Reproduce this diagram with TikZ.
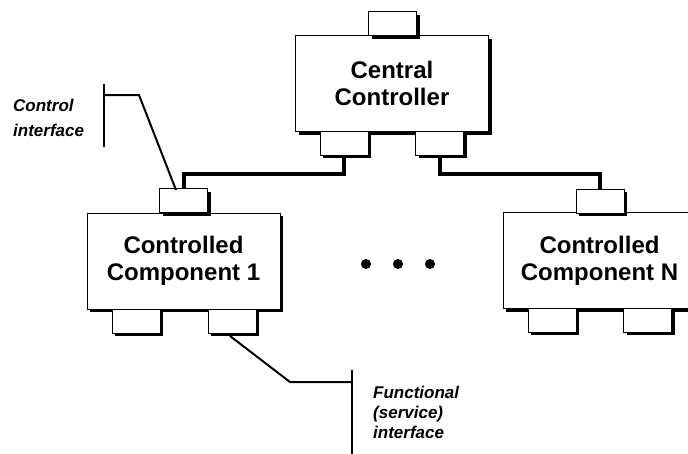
\documentclass[tikz,border=0pt]{standalone}
\usepackage{fontspec}
\setmainfont{Liberation Sans}
\usetikzlibrary{shadows}
\begin{document}
\begin{tikzpicture}[x=1pt,y=-1pt,
  shade3/.style={drop shadow={shadow xshift=3pt,shadow yshift=-3pt,fill=black,opacity=1}},
  unit/.style={draw=black,line width=0.9pt,fill=white,shade3,inner sep=0pt,
    minimum width=193pt,minimum height=96pt,align=center,
    font=\fontsize{24}{27}\selectfont\bfseries},
  port/.style={draw=black,line width=0.9pt,fill=white,shade3,inner sep=0pt,
    minimum width=48pt,minimum height=24pt},
  bus/.style={line width=4pt,black},
  pointer/.style={line width=2pt,black},
  note/.style={anchor=base west,inner sep=0pt,font=\fontsize{17}{20}\selectfont\bfseries\itshape},
  dot/.style={circle,fill=black,inner sep=0pt,minimum size=10pt}]
\useasboundingbox (0,0) rectangle (688,453);
\clip (0,0) rectangle (688,453);

% Central controller with its three ports
\node[unit] (cc) at (392,83.5) {Central\\Controller};
\node[port] (cctop) at (392.5,23.5) {};
\node[port] (ccl) at (344,143) {};
\node[port] (ccr) at (439.5,143) {};

% Controlled component 1
\node[unit] (c1) at (183.5,261) {Controlled\\Component 1};
\node[port] (c1top) at (183.5,200.5) {};
\node[port] (c1bl) at (136,321) {};
\node[port] (c1br) at (232,321) {};

% Controlled component N (runs past the right edge)
\node[unit] (cn) at (599.5,260.5) {Controlled\\Component N};
\node[port] (cntop) at (600,201) {};
\node[port] (cnbl) at (552,320) {};
\node[port] (cnbr) at (647.5,320) {};

% Control links
\draw[bus] (ccl.south) -- ++(0,19) -| (c1top.north);
\draw[bus] (ccr.south) -- ++(0,19) -| (cntop.north);

% Ellipsis between the components
\node[dot] (d1) at (366,264) {};
\node[dot] (d2) at (398,264) {};
\node[dot] (d3) at (430,264) {};

% Control interface callout
\coordinate (cibar) at (103.5,95);
\coordinate (cibend) at (139,95);
\coordinate (citip) at (176,190);
\draw[pointer] (103.5,84) -- (103.5,147);
\draw[pointer] (cibar) -- (cibend) -- (citip);
\node[note] (cilab1) at (13,111) {Control};
\node[note] (cilab2) at (13,136) {interface};

% Functional interface callout
\coordinate (fitip) at (230,336);
\coordinate (fibend) at (290,382);
\coordinate (fibar) at (352,382);
\draw[pointer] (fitip) -- (fibend) -- (fibar);
\draw[pointer] (352,370) -- (352,455);
\node[note] (filab1) at (373,398) {Functional};
\node[note] (filab2) at (373,418) {(service)};
\node[note] (filab3) at (373,438) {interface};
\end{tikzpicture}
\end{document}
